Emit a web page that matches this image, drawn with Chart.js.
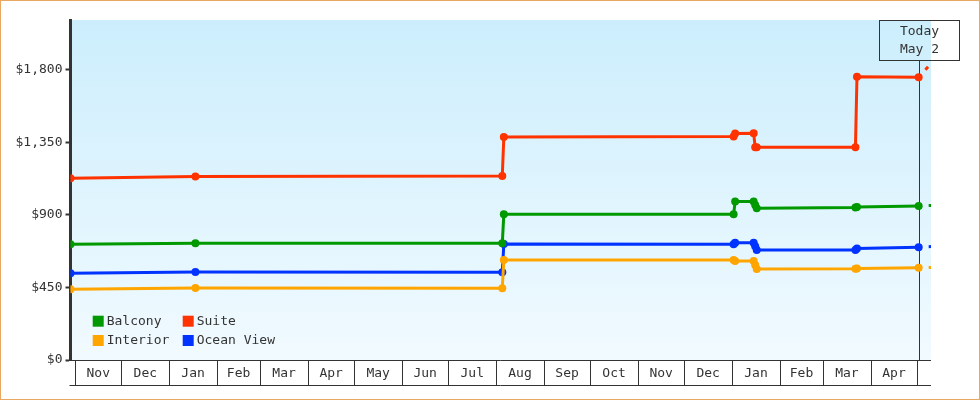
<!DOCTYPE html>
<html><head><meta charset="utf-8">
<script src="https://cdn.jsdelivr.net/npm/chart.js@4.4.0/dist/chart.umd.min.js"></script>
<style>
html,body{margin:0;padding:0;background:#fff;}
#wrap{width:980px;height:400px;box-sizing:border-box;border:1px solid #E8A862;background:#fff;}
canvas{display:block;}
</style></head><body>
<div id="wrap"><canvas id="c" width="978" height="398"></canvas></div>
<script>
// ---- data ----
const dates = ['2016-10-29','2017-01-18','2017-08-05','2017-08-06','2018-01-02','2018-01-03','2018-01-15','2018-01-16','2018-01-17','2018-03-22','2018-03-23','2018-05-02'];
const balcony   = [718, 724, 724, 904, 904, 983, 983, 962, 942, 947, 950, 956];
const suite     = [1128, 1139, 1142, 1384, 1387, 1406, 1407, 1320, 1320, 1320, 1758, 1755];
const interior  = [439, 447, 445, 621, 621, 614, 614, 590, 565, 567, 568, 573];
const oceanView = [538, 546, 544, 720, 718, 728, 728, 706, 683, 683, 692, 700];
const futureDate = '2018-05-13';
const futureBalcony = 960, futureSuite = 1871, futureInterior = 575, futureOceanView = 706;
const seriesNames = ['Balcony','Suite','Interior','Ocean View'];
const seriesColors = ['#009900','#FF3300','#FFA500','#0033FF'];
const monthLabels = ['Nov','Dec','Jan','Feb','Mar','Apr','May','Jun','Jul','Aug','Sep','Oct','Nov','Dec','Jan','Feb','Mar','Apr'];
const yTicks = [0, 450, 900, 1350, 1800];
const yMax = 2110;
const todayDate = '2018-05-02';
const todayText = ['Today','May 2'];
const axisStart = '2016-10-29', axisEnd = '2018-05-10';

// ---- helpers ----
const BASE = Date.UTC(2016, 10, 1);
function day(s){ const [y,m,d] = s.split('-').map(Number); return (Date.UTC(y,m-1,d)-BASE)/864e5; }
const monthStarts = [];
for (let i = 0; i <= monthLabels.length; i++) monthStarts.push((Date.UTC(2016, 10+i, 1)-BASE)/864e5);
const monthMids = monthLabels.map((_, i) => (monthStarts[i] + monthStarts[i+1]) / 2);

const FONT = "'DejaVu Sans Mono', monospace";
const TXT = '#333333';

const allVals = [balcony, suite, interior, oceanView];
const futVals = [futureBalcony, futureSuite, futureInterior, futureOceanView];
const datasets = [];
allVals.forEach((vals, k) => {
  datasets.push({
    label: seriesNames[k],
    data: dates.map((d, i) => ({x: day(d), y: vals[i]})),
    borderColor: seriesColors[k], backgroundColor: seriesColors[k],
    borderWidth: 3, pointRadius: 4, pointBorderWidth: 0, pointHoverRadius: 4,
    tension: 0, order: k
  });
});
allVals.forEach((vals, k) => {
  datasets.push({
    label: seriesNames[k] + ' (future)',
    data: [{x: day(todayDate), y: vals[vals.length-1]}, {x: day(futureDate), y: futVals[k]}],
    borderColor: seriesColors[k], borderWidth: 3, pointRadius: 0,
    borderDash: [4, 10], borderDashOffset: 4, tension: 0, order: 10+k
  });
});

const decor = {
  id: 'decor',
  beforeDraw(chart){
    const {ctx, chartArea: a} = chart;
    const g = ctx.createLinearGradient(0, a.top, 0, a.bottom);
    g.addColorStop(0, '#CCEEFC'); g.addColorStop(1, '#F1FAFF');
    ctx.save(); ctx.fillStyle = g;
    ctx.fillRect(a.left, a.top, a.right - a.left, a.bottom - a.top);
    ctx.restore();
  },
  beforeDatasetsDraw(chart){
    const {ctx, chartArea: a, scales: {x}} = chart;
    const xt = Math.round(x.getPixelForValue(day(todayDate))) + 0.5;
    ctx.save(); ctx.strokeStyle = TXT; ctx.lineWidth = 1;
    ctx.beginPath(); ctx.moveTo(xt, 59); ctx.lineTo(xt, a.bottom); ctx.stroke();
    ctx.restore();
  },
  afterDraw(chart){
    const {ctx, chartArea: a, scales: {x}} = chart;
    ctx.save();
    ctx.strokeStyle = TXT; ctx.lineWidth = 1;
    const top = Math.round(a.bottom) + 0.5, bot = top + 25;
    ctx.beginPath();
    ctx.moveTo(a.left, top); ctx.lineTo(a.right, top);
    ctx.moveTo(a.left - 1, bot); ctx.lineTo(a.right, bot);
    monthStarts.forEach(d => {
      const px = Math.round(x.getPixelForValue(d)) + 0.5;
      ctx.moveTo(px, top); ctx.lineTo(px, bot);
    });
    ctx.stroke();
    // today box
    const xt = Math.round(x.getPixelForValue(day(todayDate))) + 0.5;
    ctx.strokeRect(xt - 40, 19.5, 80, 40);
    ctx.fillStyle = TXT; ctx.font = '13px ' + FONT;
    ctx.textAlign = 'center'; ctx.textBaseline = 'middle';
    ctx.fillText(todayText[0], xt, 31);
    ctx.fillText(todayText[1], xt, 49);
    // legend
    const pos = [[91.7, 314.7], [181.7, 314.7], [91.7, 334], [181.7, 334]];
    ctx.textAlign = 'left';
    seriesNames.forEach((n, i) => {
      const [lx, ly] = pos[i];
      ctx.fillStyle = seriesColors[i];
      ctx.fillRect(lx, ly, 11, 11);
      ctx.fillStyle = TXT;
      ctx.fillText(n, lx + 14, ly + 6);
    });
    ctx.restore();
  }
};

new Chart(document.getElementById('c'), {
  type: 'line',
  data: { datasets },
  plugins: [decor],
  options: {
    responsive: false, animation: false, events: [],
    layout: { padding: { left: 0, top: 19, right: 48, bottom: 0 } },
    plugins: { legend: { display: false }, tooltip: { enabled: false } },
    scales: {
      x: {
        type: 'linear', min: day(axisStart), max: day(axisEnd),
        afterBuildTicks: s => { s.ticks = monthMids.map(v => ({value: v})); },
        afterFit: s => { s.height = 39; },
        grid: { display: false }, border: { display: false },
        ticks: {
          autoSkip: false, maxRotation: 0, minRotation: 0, padding: -2,
          color: TXT, font: { family: FONT, size: 13 },
          callback: (v, i) => monthLabels[i]
        }
      },
      y: {
        type: 'linear', min: 0, max: yMax,
        afterBuildTicks: s => { s.ticks = yTicks.map(v => ({value: v})); },
        afterFit: s => { s.width = 69.5; },
        grid: { display: true, drawOnChartArea: false, drawTicks: true, tickLength: 5, tickWidth: 2, tickColor: TXT },
        border: { display: true, width: 3, color: TXT },
        ticks: {
          padding: 3, color: TXT, font: { family: FONT, size: 13 },
          callback: v => '$' + Number(v).toLocaleString('en-US')
        }
      }
    }
  }
});
</script>
</body></html>
